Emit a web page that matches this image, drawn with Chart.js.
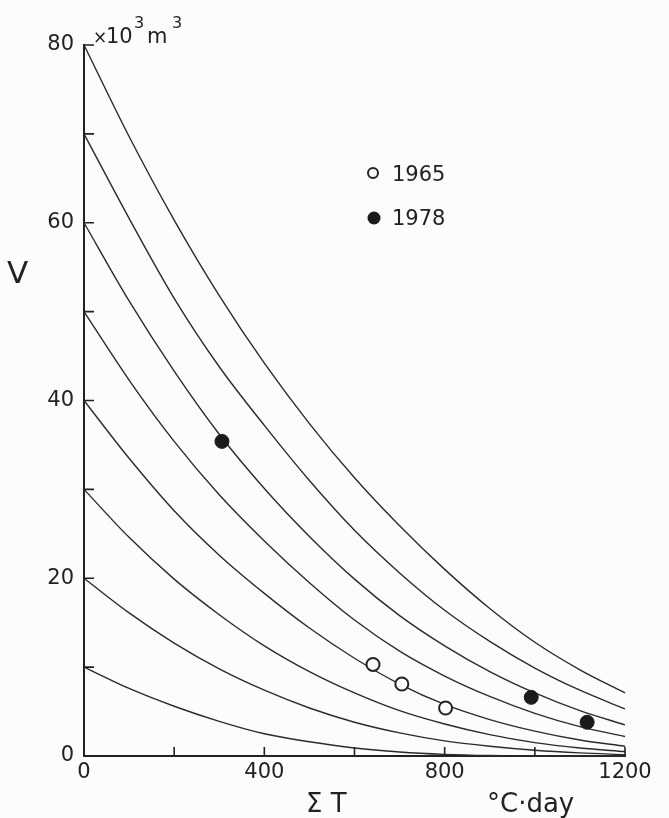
<!DOCTYPE html>
<html>
<head>
<meta charset="utf-8">
<script src="https://cdn.jsdelivr.net/npm/chart.js@4.4.0/dist/chart.umd.min.js"></script>
<style>
  body { margin: 0; background: #fbfcfb; }
  canvas { display: block; }
</style>
</head>
<body>
<canvas id="melt" width="669" height="818"></canvas>
<script>
// cumulative degree-days (x) where the curves were read
const sumT = [0, 100, 200, 300, 400, 500, 600, 700, 800, 900, 1000, 1100, 1200];

// volume curves (x10^3 m^3), one per starting volume
const curve80 = [80, 69.7, 60.3, 51.8, 44.2, 37.4, 31.3, 25.9, 21.0, 16.6, 12.8, 9.7, 7.1];
const curve70 = [70, 60.5, 51.5, 43.8, 37.2, 31.0, 25.4, 20.6, 16.4, 12.9, 9.9, 7.4, 5.3];
const curve60 = [60, 51.2, 43.3, 36.2, 30.1, 24.7, 19.9, 15.8, 12.4, 9.5, 7.1, 5.1, 3.5];
const curve50 = [50, 42.3, 35.4, 29.4, 24.2, 19.5, 15.3, 11.8, 9.0, 6.7, 4.8, 3.3, 2.2];
const curve40 = [40, 33.5, 27.6, 22.6, 18.3, 14.4, 11.0, 8.1, 5.8, 4.1, 2.8, 1.8, 1.1];
const curve30 = [30, 24.6, 19.9, 15.9, 12.4, 9.5, 7.1, 5.1, 3.6, 2.4, 1.5, 0.9, 0.5];
const curve20 = [20, 16.1, 12.7, 9.8, 7.4, 5.4, 3.8, 2.6, 1.7, 1.1, 0.65, 0.35, 0.15];
const curve10 = [10, 7.6, 5.6, 3.9, 2.5, 1.6, 0.9, 0.45, 0.18, 0.05, 0, 0, 0];
const curves = [curve10, curve20, curve30, curve40, curve50, curve60, curve70, curve80];

// observations
const obs1965T = [641, 705, 802];
const obs1965V = [10.3, 8.1, 5.4];
const obs1978T = [306, 992, 1116];
const obs1978V = [35.4, 6.6, 3.8];

// axis ticks
const xTicks = [0, 200, 400, 600, 800, 1000, 1200];
const xLabels = [0, 400, 800, 1200];
const yTicks = [0, 10, 20, 30, 40, 50, 60, 70, 80];
const yLabels = [0, 20, 40, 60, 80];

const ink = '#222';
const font = 'DejaVu Sans';

const toPoints = (xs, ys) => xs.map((x, i) => ({ x: x, y: ys[i] }));

const datasets = [];
datasets.push({
  label: '1965',
  data: toPoints(obs1965T, obs1965V),
  pointRadius: 6.5,
  pointBorderWidth: 2,
  pointBackgroundColor: '#fbfcfb',
  pointBorderColor: ink,
  showLine: false,
  order: 0
});
datasets.push({
  label: '1978',
  data: toPoints(obs1978T, obs1978V),
  pointRadius: 7,
  pointBorderWidth: 1,
  pointBackgroundColor: '#1b1b1b',
  pointBorderColor: '#1b1b1b',
  showLine: false,
  order: 0
});
curves.forEach((c, i) => {
  datasets.push({
    label: 'V0 = ' + (i + 1) * 10,
    data: toPoints(sumT, c),
    showLine: true,
    borderColor: '#2b2b2b',
    borderWidth: 1.4,
    pointRadius: 0,
    cubicInterpolationMode: 'monotone',
    clip: 4,
    order: 1
  });
});

// inward ticks, legend and free text labels
const decor = {
  id: 'decor',
  afterDraw(chart) {
    const c = chart.ctx;
    const a = chart.chartArea;
    const xs = chart.scales.x, ys = chart.scales.y;
    c.save();
    c.strokeStyle = ink;
    c.lineWidth = 1.6;
    c.beginPath();
    xTicks.forEach(t => {
      if (t === 0) return;
      const px = xs.getPixelForValue(t);
      c.moveTo(px, a.bottom);
      c.lineTo(px, a.bottom - 9);
    });
    yTicks.forEach(t => {
      if (t === 0) return;
      const py = ys.getPixelForValue(t);
      c.moveTo(a.left, py);
      c.lineTo(a.left + 10, py);
    });
    c.stroke();

    // legend
    const lx = a.left + 289;
    c.beginPath();
    c.lineWidth = 2;
    c.arc(lx, 173, 5, 0, Math.PI * 2);
    c.stroke();
    c.beginPath();
    c.fillStyle = '#1b1b1b';
    c.arc(lx + 1, 218, 6.5, 0, Math.PI * 2);
    c.fill();
    c.fillStyle = ink;
    c.font = '21px "' + font + '"';
    c.textBaseline = 'alphabetic';
    c.textAlign = 'left';
    c.fillText('1965', lx + 19, 181);
    c.fillText('1978', lx + 19, 225);

    // unit label at top of y axis
    c.font = '17px "' + font + '"';
    c.fillText('×', 93, 43);
    c.font = '21px "' + font + '"';
    c.fillText('10', 106, 43);
    c.fillText('m', 147, 43);
    c.font = '16px "' + font + '"';
    c.fillText('3', 134, 28);
    c.fillText('3', 172, 28);

    // axis names
    c.font = '31px "' + font + '"';
    c.fillText('V', 7, 283);
    c.font = '26px "' + font + '"';
    c.fillText('Σ T', 306, 812);
    c.fillText('°C·day', 487, 812);
    c.restore();
  }
};

new Chart(document.getElementById('melt'), {
  type: 'scatter',
  data: { datasets: datasets },
  options: {
    responsive: false,
    animation: false,
    devicePixelRatio: 1,
    layout: { padding: { top: 45, right: 44, bottom: 0, left: 0 } },
    plugins: {
      legend: { display: false },
      tooltip: { enabled: false }
    },
    scales: {
      x: {
        type: 'linear',
        min: 0,
        max: 1200,
        afterFit: s => { s.height = 62; },
        afterBuildTicks: s => { s.ticks = xTicks.map(v => ({ value: v })); },
        ticks: {
          color: ink,
          font: { family: font, size: 21 },
          padding: 4,
          maxRotation: 0,
          autoSkip: false,
          callback: v => xLabels.includes(v) ? String(v) : ''
        },
        grid: { display: false, drawTicks: false },
        border: { display: true, color: ink, width: 2 }
      },
      y: {
        min: 0,
        max: 80,
        afterFit: s => { s.width = 84; },
        afterBuildTicks: s => { s.ticks = yTicks.map(v => ({ value: v })); },
        ticks: {
          color: ink,
          font: { family: font, size: 21 },
          padding: 10,
          autoSkip: false,
          callback: v => yLabels.includes(v) ? String(v) : ''
        },
        grid: { display: false, drawTicks: false },
        border: { display: true, color: ink, width: 2 }
      }
    }
  },
  plugins: [decor]
});
</script>
</body>
</html>
